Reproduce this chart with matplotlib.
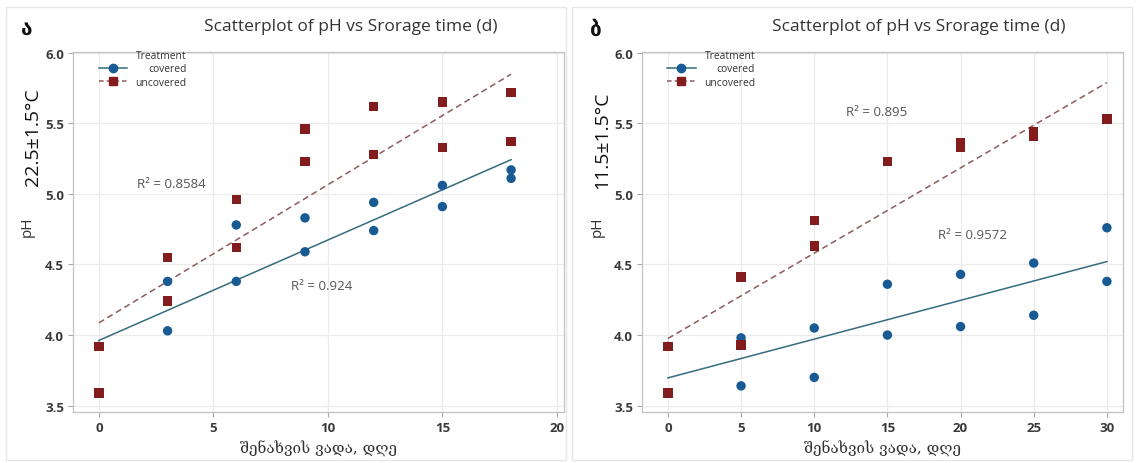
import numpy as np
import matplotlib
matplotlib.use("Agg")
import matplotlib.pyplot as plt
from matplotlib.lines import Line2D
from matplotlib.patches import Rectangle

# ---- data: pH over storage time, two treatments, two storage temperatures ----
days_a = [0, 0, 3, 3, 6, 6, 9, 9, 12, 12, 15, 15, 18, 18]
covered_a = [3.92, 3.59, 4.38, 4.03, 4.78, 4.38, 4.83, 4.59, 4.94, 4.74, 5.06, 4.91, 5.17, 5.11]
uncovered_a = [3.92, 3.59, 4.55, 4.24, 4.96, 4.62, 5.46, 5.23, 5.62, 5.28, 5.65, 5.33, 5.72, 5.37]

days_b = [0, 0, 5, 5, 10, 10, 15, 15, 20, 20, 25, 25, 30, 30]
covered_b = [3.92, 3.59, 3.98, 3.64, 4.05, 3.70, 4.36, 4.00, 4.43, 4.06, 4.51, 4.14, 4.76, 4.38]
uncovered_b = [3.92, 3.59, 4.41, 3.93, 4.81, 4.63, 5.23, 5.23, 5.36, 5.33, 5.44, 5.41, 5.53, 5.53]

r2_a = {"covered": "R\u00b2 = 0.924", "uncovered": "R\u00b2 = 0.8584"}
r2_b = {"covered": "R\u00b2 = 0.9572", "uncovered": "R\u00b2 = 0.895"}

title = "Scatterplot of pH vs Srorage time (d)"
xlabel = "შენახვის ვადა, დღე"
temps = ["22.5±1.5°C", "11.5±1.5°C"]
panel_tags = ["ა", "ბ"]
xticks_a = [0, 5, 10, 15, 20]
xticks_b = [0, 5, 10, 15, 20, 25, 30]
yticks = [3.5, 4.0, 4.5, 5.0, 5.5, 6.0]

BLUE = "#175a94"
RED = "#831c1c"
FIT_COV = "#356b7c"
FIT_UNC = "#8e5c5c"
SANS = ["Open Sans", "DejaVu Sans"]

W, H = 1137, 464
fig = plt.figure(figsize=(W / 100, H / 100), dpi=100)
fig.patch.set_facecolor("white")


def px_rect(x0, x1, top, bottom):
    return [x0 / W, 1 - bottom / H, (x1 - x0) / W, (bottom - top) / H]


# faint panel frames
for (x0, x1) in [(6, 566), (572, 1132)]:
    fig.add_artist(Rectangle((x0 / W, 1 - 461 / H), (x1 - x0) / W, (461 - 8) / H,
                             transform=fig.transFigure, fill=False,
                             edgecolor="#e6e6e6", linewidth=1.0))

# axes boxes in pixel terms: (left, right, top, bottom)
boxes = [(73, 564, 53, 413), (642, 1123, 53, 413)]
ax_a = fig.add_axes(px_rect(*boxes[0]))
ax_b = fig.add_axes(px_rect(*boxes[1]))

panels = [
    (ax_a, days_a, covered_a, uncovered_a, r2_a, xticks_a, (-1.13, 20.31)),
    (ax_b, days_b, covered_b, uncovered_b, r2_b, xticks_b, (-1.77, 31.1)),
]

text_pos_px = [
    {"uncovered": (171, 185), "covered": (322, 287)},
    {"uncovered": (877, 112), "covered": (973, 236)},
]
ylabel_x_px = [35, 605]

for i, (ax, days, cov, unc, r2, xt, xlim) in enumerate(panels):
    x = np.asarray(days, float)
    for vals, color, marker, fit_color, ls in [
        (cov, BLUE, "o", FIT_COV, "-"),
        (unc, RED, "s", FIT_UNC, (0, (4, 2.5))),
    ]:
        y = np.asarray(vals, float)
        slope, icpt = np.polyfit(x, y, 1)
        xs = np.array([x.min(), x.max()])
        ax.plot(xs, icpt + slope * xs, color=fit_color, linestyle=ls, linewidth=1.1, zorder=2)
        ax.scatter(x, y, s=46, marker=marker, color=color, edgecolors="none", zorder=3)

    ax.set_xlim(*xlim)
    ax.set_ylim(3.455, 6.005)
    ax.set_xticks(xt)
    ax.set_yticks(yticks)
    ax.set_yticklabels([f"{v:.1f}" for v in yticks])
    ax.grid(True, color="#ebebeb", linewidth=0.9, zorder=0)
    ax.set_axisbelow(True)
    for sp in ax.spines.values():
        sp.set_color("#c2c2c2")
        sp.set_linewidth(0.9)
    ax.tick_params(axis="both", direction="out", length=3.5, width=0.8, color="#a8a8a8",
                   labelsize=9.5, labelcolor="#3a3a3a", pad=3)
    for lab in ax.get_xticklabels() + ax.get_yticklabels():
        lab.set_fontfamily(SANS)
        lab.set_fontweight("bold")

    ax.set_xlabel(xlabel, fontsize=11, color="#333333", family=["DejaVu Serif", "DejaVu Sans"],
                  labelpad=4)
    ax.set_ylabel("pH", fontsize=11, color="#333333", family=SANS)
    left, right, top, bottom = boxes[i]
    ax.yaxis.set_label_coords((ylabel_x_px[i] - left) / (right - left), (bottom - 227) / (bottom - top))

    # R² annotations
    for key, (px, py) in text_pos_px[i].items():
        fig.text(px / W, 1 - py / H, r2[key], ha="center", va="center", fontsize=9.5,
                 color="#555555", family=SANS)

    # legend: handles on the left, labels flush right, header "Treatment"
    handles = [
        Line2D([], [], color=FIT_COV, linestyle="-", marker="o", markersize=6,
               markerfacecolor=BLUE, markeredgecolor=BLUE, linewidth=1.1),
        Line2D([], [], color=FIT_UNC, linestyle=(0, (3, 2)), marker="s", markersize=6,
               markerfacecolor=RED, markeredgecolor=RED, linewidth=1.1),
    ]
    leg = ax.legend(handles, ["covered", "uncovered"], title="Treatment",
                    loc="upper left", bbox_to_anchor=(0.052, 1.005), frameon=False,
                    title_fontsize=7.4, alignment="right",
                    handlelength=2.8, handletextpad=0.8, labelspacing=0.22,
                    borderpad=0, borderaxespad=0,
                    prop={"family": SANS, "size": 7.4})
    leg.get_title().set_color("#333333")
    leg.get_title().set_fontfamily(SANS)
    for t in leg.get_texts():
        t.set_color("#333333")
    ax._tr_leg = leg

# titles, temperature labels and panel tags
title_cx = [351, 919]
temp_px = [(33, 137), (602, 140)]
tag_px = [(27, 29), (596, 30)]
for i in range(2):
    fig.text(title_cx[i] / W, 1 - 27 / H, title, ha="center", va="center",
             fontsize=12.5, color="#333333", family=SANS)
    fig.text(temp_px[i][0] / W, 1 - temp_px[i][1] / H, temps[i], rotation=90,
             ha="center", va="center", fontsize=14, color="#111111", family=SANS)
    fig.text(tag_px[i][0] / W, 1 - tag_px[i][1] / H, panel_tags[i], ha="center", va="center",
             fontsize=15, fontweight="bold", color="#111111", family=["DejaVu Sans"])

# right-align the legend labels under the header
fig.canvas.draw()
rend = fig.canvas.get_renderer()
for ax in (ax_a, ax_b):
    texts = ax._tr_leg.get_texts()
    widths = [t.get_window_extent(rend).width for t in texts]
    mw = max(widths)
    for t, w in zip(texts, widths):
        t.set_position((mw - w, 0))

fig.savefig("out.png", dpi=100)
